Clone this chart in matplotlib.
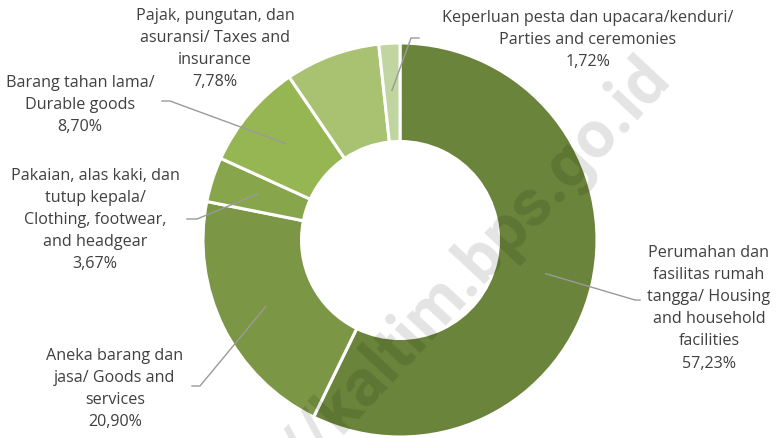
import numpy as np
import matplotlib.pyplot as plt

labels = [
    "Perumahan dan\nfasilitas rumah\ntangga/ Housing\nand household\nfacilities",
    "Aneka barang dan\njasa/ Goods and\nservices",
    "Pakaian, alas kaki, dan\ntutup kepala/\nClothing, footwear,\nand headgear",
    "Barang tahan lama/\nDurable goods",
    "Pajak, pungutan, dan\nasuransi/ Taxes and\ninsurance",
    "Keperluan pesta dan upacara/kenduri/\nParties and ceremonies",
]
shares = [57.23, 20.90, 3.67, 8.70, 7.78, 1.72]
colors = ["#6a843b", "#7b9645", "#87a64c", "#96b553", "#a8c271", "#c1d5a0"]

W, H = 776, 438
CX, CY, R = 400, 240, 197


def px(x, y):
    # pixel position -> data units (radius 1 = outer ring)
    return (x - CX) / R, (CY - y) / R


fig = plt.figure(figsize=(W / 100, H / 100), dpi=100)
ax = fig.add_axes([0, 0, 1, 1])

wedges, _ = ax.pie(shares, colors=colors, startangle=90, counterclock=False,
                   radius=1, wedgeprops=dict(width=0.5, edgecolor="white", linewidth=2.2))

ax.set_xlim(-CX / R, (W - CX) / R)
ax.set_ylim(-(H - CY) / R, CY / R)
ax.set_aspect("equal")
ax.axis("off")

# label layout: text centre x, first-line centre y (px), leader elbow, leader end
layout = [
    (709, 252, (635, 300), (640, 300)),
    (115, 355, (200, 386), (192, 386)),
    (95, 175, (197, 219), (187, 219)),
    (80, 82, (170, 101), (162, 101)),
    (215, 15, None, None),
    (588, 17, (411, 38), (419, 38)),
]

txt_color = "#404040"
cum = 0
for w, lab, val, (tx, ty, elbow, end) in zip(wedges, labels, shares, layout):
    mid = np.deg2rad(90 - (cum + val / 2) * 3.6)
    cum += val
    text = lab + "\n" + f"{val:.2f}%".replace(".", ",")
    x, y = px(tx, ty - 7)
    ax.text(x, y, text, ha="center", va="top", fontsize=11.6, color=txt_color,
            family="Open Sans", linespacing=1.51, zorder=5)
    if elbow is not None:
        ax0, ay0 = 0.76 * np.cos(mid), 0.76 * np.sin(mid)
        ex, ey = px(*elbow)
        nx, ny = px(*end)
        ax.plot([ax0, ex, nx], [ay0, ey, ny], color="#9a9a9a", lw=1, zorder=4)

# watermark
ax.text(*px(672, 80), "https://kaltim.bps.go.id", rotation=47, rotation_mode="anchor",
        ha="right", va="baseline", fontsize=48, fontweight="bold", color="#000000",
        alpha=0.11, family="Roboto", zorder=6)

fig.savefig("out.png", dpi=100)
